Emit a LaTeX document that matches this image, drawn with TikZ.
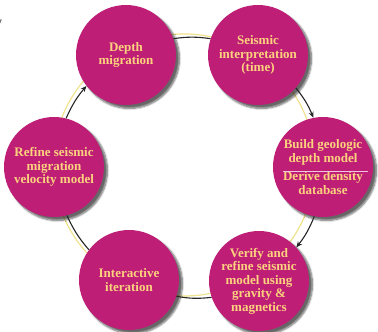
\documentclass[tikz,border=0pt]{standalone}
\usepackage{fontspec}
\setmainfont{Liberation Serif}
\setsansfont{Liberation Sans}
\usetikzlibrary{arrows.meta,shadows.blur,calc}
\definecolor{stepfill}{RGB}{190,30,118}
\definecolor{steptext}{RGB}{252,210,126}
\definecolor{ringgold}{RGB}{240,226,140}
\definecolor{divider}{RGB}{240,196,222}
\begin{document}
\begin{tikzpicture}[x=1pt,y=-1pt,
  stage/.style={circle, fill=stepfill, minimum size=100pt, inner sep=0pt,
    align=center, text=steptext,
    font=\bfseries\fontsize{13}{13.5}\selectfont,
    blur shadow={shadow xshift=3.5pt, shadow yshift=-3.5pt, shadow blur steps=7, shadow opacity=60}},
  flow/.style={draw=black!85, line width=1.1pt, bend left=8},
  flowarrow/.style={flow, -{Stealth[length=6pt,width=5pt]}},
]
\useasboundingbox (0,0) rectangle (378,332);

% pale ring, slightly offset behind the cycle
\draw[ringgold, line width=1.2pt] (184,165) circle[radius=131pt];

% the six stages
\node[stage] (depth)   at (126,55)  {Depth\\migration};
\node[stage] (seismic) at (258,55)  {Seismic\\interpretation\\(time)};
\node[stage] (build)   at (323,167) {Build geologic\\depth model\\[5pt]Derive density\\database};
\node[stage] (verify)  at (259,281) {Verify and\\refine seismic\\model using\\gravity \&\\magnetics};
\node[stage] (inter)   at (129,280) {Interactive\\iteration};
\node[stage] (refine)  at (54,167)  {Refine seismic\\migration\\velocity model};

% divider between the two tasks of the build stage
\draw[divider, line width=0.9pt] ($(build)+(-40,4)$) -- ($(build)+(45,4)$);

% connectors around the cycle, leaving each stage where the ring crosses it
\draw[flow]      (depth.19)    to (seismic.161);
\draw[flowarrow] (seismic.-41) to (build.101);
\draw[flowarrow] (build.-100)  to (verify.42);
\draw[flow]      (verify.-161) to (inter.-19);
\draw[flow]      (inter.143)   to (refine.-75);
\draw[flowarrow] (refine.76)   to (depth.-142);

% stray letter at the edge
\node[font=\sffamily\fontsize{11}{12}\selectfont, text=black!70, inner sep=0pt] (edge) at (-1,24) {y};
\end{tikzpicture}
\end{document}
